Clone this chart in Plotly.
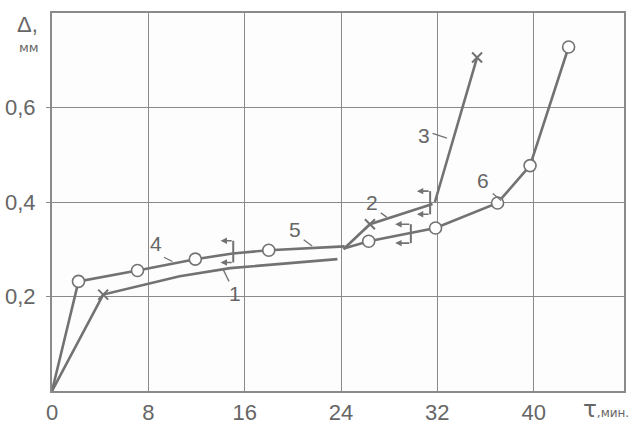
import plotly.graph_objects as go

# ---- data (τ, min ; Δ, mm) ----
c1_x = [0, 4.25, 10.6, 14.8, 23.7]
c1_y = [0, 0.204, 0.243, 0.260, 0.279]
c1_mx = [4.25]
c1_my = [0.204]

c2_x = [24.2, 26.4, 31.6]
c2_y = [0.300, 0.353, 0.396]
c2_mx = [26.4]
c2_my = [0.353]

c3_x = [31.8, 35.3]
c3_y = [0.400, 0.706]
c3_mx = [35.3]
c3_my = [0.706]

c4_x = [0, 2.2, 7.1, 11.9, 15.0]
c4_y = [0, 0.232, 0.255, 0.279, 0.291]
c4_mx = [2.2, 7.1, 11.9]
c4_my = [0.232, 0.255, 0.279]

c5_x = [15.0, 18.0, 24.3]
c5_y = [0.291, 0.298, 0.306]
c5_mx = [18.0]
c5_my = [0.298]

c6_x = [24.3, 26.3, 31.85, 37.0, 39.7, 42.9]
c6_y = [0.302, 0.317, 0.345, 0.398, 0.477, 0.728]
c6_mx = [26.3, 31.85, 37.0, 39.7, 42.9]
c6_my = [0.317, 0.345, 0.398, 0.477, 0.728]

# brackets (stop / restart marks)
br_x_open = [14.0, 28.5, 30.3]
br_x_close = [15.05, 29.8, 31.4]
br_y_top = [0.318, 0.353, 0.423]
br_y_bot = [0.272, 0.313, 0.374]

# curve labels and leader lines
lab_text = ["1", "2", "3", "4", "5", "6"]
lab_x = [15.2, 26.6, 30.9, 8.6, 20.2, 35.8]
lab_y = [0.206, 0.400, 0.540, 0.312, 0.342, 0.445]
lead_x0 = [14.7, 27.3, 31.6, 9.3, 20.9, 36.6]
lead_y0 = [0.232, 0.377, 0.545, 0.283, 0.320, 0.418]
lead_x1 = [14.2, 27.8, 32.8, 10.0, 21.6, 37.3]
lead_y1 = [0.258, 0.368, 0.535, 0.274, 0.307, 0.403]

x_ticks = [0, 8, 16, 24, 32, 40]
x_ticktext = ["0", "8", "16", "24", "32", "40"]
y_ticks = [0.2, 0.4, 0.6]
y_ticktext = ["0,2", "0,4", "0,6"]

LINE = "#727272"
GRID = "#8a8a8a"
TXT = "#666666"
FONT = "Liberation Sans, Arial, sans-serif"

fig = go.Figure()

for xs, ys in [(c1_x, c1_y), (c2_x, c2_y), (c3_x, c3_y), (c4_x, c4_y), (c5_x, c5_y), (c6_x, c6_y)]:
    fig.add_trace(go.Scatter(x=xs, y=ys, mode="lines", line=dict(color=LINE, width=2.6),
                             hoverinfo="skip", showlegend=False))

for xs, ys in [(c1_mx, c1_my), (c2_mx, c2_my), (c3_mx, c3_my)]:
    fig.add_trace(go.Scatter(x=xs, y=ys, mode="markers",
                             marker=dict(symbol="x-thin", size=10, line=dict(color=LINE, width=2)),
                             showlegend=False, hoverinfo="skip"))

for xs, ys in [(c4_mx, c4_my), (c5_mx, c5_my), (c6_mx, c6_my)]:
    fig.add_trace(go.Scatter(x=xs, y=ys, mode="markers",
                             marker=dict(symbol="circle", size=12, color="white",
                                         line=dict(color=LINE, width=1.6)),
                             showlegend=False, hoverinfo="skip"))

annotations = []
for xo, xc, yt, yb in zip(br_x_open, br_x_close, br_y_top, br_y_bot):
    fig.add_trace(go.Scatter(x=[xc, xc], y=[yt, yb], mode="lines",
                             line=dict(color=LINE, width=2), showlegend=False, hoverinfo="skip"))
    for yy in (yt, yb):
        annotations.append(dict(x=xo, y=yy, ax=xc, ay=yy, xref="x", yref="y", axref="x", ayref="y",
                                text="", showarrow=True, arrowhead=2, arrowsize=0.8, arrowwidth=1.6,
                                arrowcolor=LINE))

for x0, y0, x1, y1 in zip(lead_x0, lead_y0, lead_x1, lead_y1):
    fig.add_trace(go.Scatter(x=[x0, x1], y=[y0, y1], mode="lines",
                             line=dict(color=LINE, width=1.3), showlegend=False, hoverinfo="skip"))

for t, x, y in zip(lab_text, lab_x, lab_y):
    annotations.append(dict(x=x, y=y, xref="x", yref="y", text=t, showarrow=False,
                            font=dict(family=FONT, size=21, color=TXT)))

annotations.append(dict(xref="paper", yref="paper", x=0, y=1.0, xanchor="right", yanchor="middle",
                        text="Δ,", showarrow=False, yshift=-11, xshift=-12,
                        font=dict(family=FONT, size=22, color=TXT)))
annotations.append(dict(xref="paper", yref="paper", x=0, y=1.0, xanchor="right", yanchor="middle",
                        text="мм", showarrow=False, yshift=-34, xshift=-11,
                        font=dict(family="DejaVu Sans", size=13, color=TXT)))
annotations.append(dict(xref="paper", yref="paper", x=1.0, y=0, xanchor="right", yanchor="top",
                        text="<span style='font-size:23px'>τ</span>,мин.", showarrow=False,
                        yshift=-3, xshift=7,
                        font=dict(family="DejaVu Sans", size=12, color=TXT)))

fig.update_layout(
    width=634, height=423,
    margin=dict(l=52, r=10, t=13, b=32),
    paper_bgcolor="white", plot_bgcolor="#fdfdfd",
    annotations=annotations,
    showlegend=False,
)
fig.update_xaxes(range=[0, 47.5], tickvals=x_ticks, ticktext=x_ticktext, automargin=False,
                 showgrid=True, gridcolor=GRID, gridwidth=1.4, zeroline=False,
                 showline=True, linecolor=GRID, linewidth=2.2, mirror=True, ticks="",
                 tickfont=dict(family=FONT, size=22, color=TXT))
fig.update_yaxes(range=[0, 0.8], tickvals=y_ticks, ticktext=y_ticktext, automargin=False,
                 showgrid=True, gridcolor=GRID, gridwidth=1.4, zeroline=False,
                 showline=True, linecolor=GRID, linewidth=2.2, mirror=True,
                 ticks="outside", ticklen=4, tickcolor=GRID, ticklabelstandoff=6,
                 tickfont=dict(family=FONT, size=22, color=TXT))

fig.write_html("out.html", config={"displayModeBar": False},
               post_script="document.body.style.margin='0';")
